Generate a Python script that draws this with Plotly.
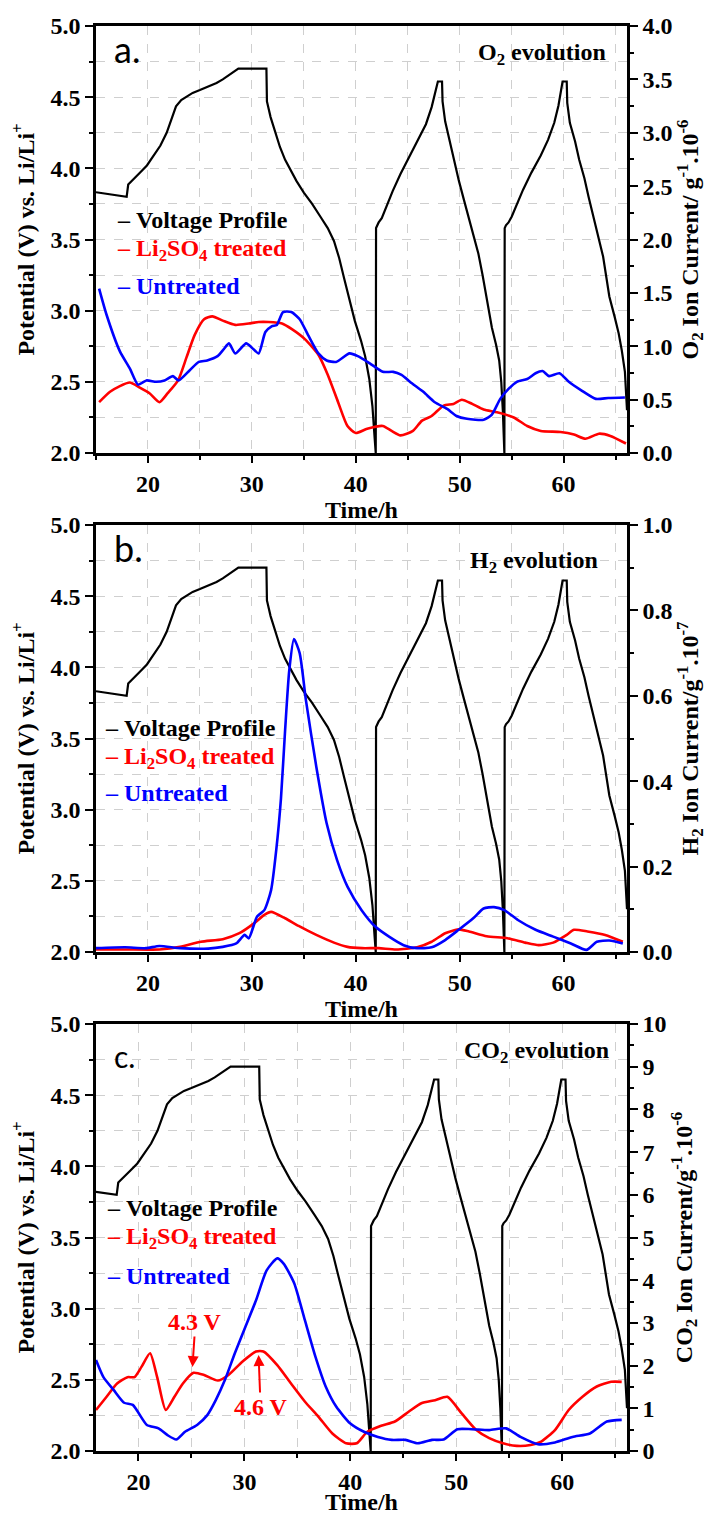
import plotly.graph_objects as go

# ---------------- data ----------------
# Voltage profile (same cell, shared by the three panels)
volt_t = [15.0, 17.95, 18.1, 18.6, 19.2, 19.9, 20.5, 21.2, 21.8, 22.3, 22.7, 23.2, 23.7, 24.3, 25.0,
          25.8, 26.6, 27.2, 27.8, 28.3, 28.7, 31.4, 31.45, 31.8, 32.2, 32.7, 33.2, 33.7, 34.3,
          35.0, 35.8, 36.6, 37.3, 37.9, 38.4, 38.9, 39.4, 39.9, 40.5, 40.9, 41.3, 41.6, 41.8,
          41.92, 41.95, 42.2, 42.5, 43.0, 43.55, 44.3, 45.15, 46.0, 46.75, 47.3, 47.9, 48.3,
          48.35, 48.6, 48.97, 49.4, 49.93, 50.4, 50.9, 51.3, 51.8, 52.2, 52.5, 53.1, 53.5, 53.8,
          54.0, 54.15, 54.3, 54.33, 54.45, 54.7, 55.0, 55.5, 56.1, 56.9, 57.8, 58.5, 59.1, 59.5,
          59.9, 60.3, 60.35, 60.6, 61.1, 61.5, 62.0, 62.4, 62.8, 63.3, 63.8, 64.1, 64.4, 64.9,
          65.3, 65.6, 65.9, 66.1]
volt_v = [3.832, 3.80, 3.886, 3.92, 3.967, 4.02, 4.084, 4.16, 4.25, 4.35, 4.435, 4.48, 4.505, 4.53,
          4.55, 4.575, 4.60, 4.625, 4.655, 4.685, 4.70, 4.70, 4.47, 4.36, 4.26, 4.15, 4.06, 3.99,
          3.91, 3.83, 3.75, 3.66, 3.58, 3.49, 3.37, 3.22, 3.07, 2.93, 2.79, 2.68, 2.52, 2.33,
          2.12, 2.0, 3.58, 3.62, 3.65, 3.74, 3.84, 3.96, 4.08, 4.20, 4.31, 4.43, 4.61, 4.61,
          4.47, 4.33, 4.21, 4.07, 3.91, 3.78, 3.65, 3.54, 3.40, 3.25, 3.12, 2.88, 2.76, 2.65,
          2.50, 2.30, 2.0, 3.58, 3.60, 3.62, 3.66, 3.75, 3.85, 3.97, 4.09, 4.20, 4.32, 4.44,
          4.61, 4.61, 4.46, 4.32, 4.19, 4.06, 3.93, 3.80, 3.68, 3.54, 3.38, 3.24, 3.10, 2.96,
          2.84, 2.72, 2.57, 2.30]

# (a) O2 ion current, 1e-6
o2_treated_t = [15.3, 16.35, 17.3, 18.25, 19.2, 20.15, 21.1, 21.9, 22.9, 23.7, 24.5, 25.4, 26.2, 27.2,
                28.4, 29.7, 30.65, 31.6, 32.9, 33.85, 35.1, 36.4, 37.3, 38.3, 39.2, 40.0, 41.1, 42.6,
                43.45, 44.3, 45.5, 46.35, 47.3, 48.45, 49.4, 50.2, 51.2, 52.3, 53.6, 55.2, 56.5,
                57.8, 59.7, 61.0, 62.1, 63.4, 64.5, 66.0]
o2_treated = [0.476, 0.573, 0.627, 0.66, 0.613, 0.56, 0.476, 0.56, 0.68, 0.893, 1.107, 1.253, 1.28,
              1.24, 1.2, 1.213, 1.227, 1.227, 1.213, 1.16, 1.067, 0.92, 0.733, 0.476, 0.253, 0.187,
              0.227, 0.253, 0.207, 0.165, 0.207, 0.301, 0.347, 0.444, 0.46, 0.499, 0.46, 0.407,
              0.381, 0.333, 0.253, 0.207, 0.197, 0.173, 0.133, 0.181, 0.16, 0.089]
o2_untreated_t = [15.3, 16.0, 17.3, 18.25, 19.05, 19.85, 20.8, 21.6, 22.4, 22.95, 24.0, 24.9, 25.7,
                  26.7, 27.3, 27.8, 28.4, 29.45, 30.0, 30.65, 31.3, 31.9, 32.4, 33.0, 33.8, 34.6,
                  35.4, 36.4, 37.2, 38.1, 39.4, 40.2, 41.35, 42.6, 43.6, 44.4, 45.4, 46.5, 47.6,
                  48.8, 49.7, 50.7, 52.3, 53.1, 53.9, 54.7, 55.5, 56.5, 57.3, 57.97, 58.6, 59.6,
                  60.5, 61.7, 63.1, 64.3, 65.9]
o2_untreated = [1.54, 1.30, 0.952, 0.793, 0.64, 0.68, 0.667, 0.68, 0.72, 0.68, 0.773, 0.853, 0.867,
                0.907, 0.973, 1.027, 0.933, 1.027, 0.987, 0.933, 1.133, 1.187, 1.2, 1.32, 1.32,
                1.253, 1.107, 0.933, 0.867, 0.853, 0.933, 0.907, 0.84, 0.76, 0.76, 0.731, 0.653,
                0.573, 0.476, 0.413, 0.347, 0.32, 0.311, 0.36, 0.507, 0.6, 0.667, 0.693, 0.747,
                0.768, 0.72, 0.747, 0.667, 0.587, 0.507, 0.515, 0.52]

# (b) H2 ion current, 1e-7
h2_treated_t = [15.0, 17.8, 21.1, 23.1, 25.1, 27.2, 28.8, 30.2, 31.2, 31.85, 33.2, 34.5, 36.2, 37.9,
                39.2, 40.6, 42.2, 43.9, 45.9, 47.3, 48.6, 49.9, 50.9, 52.6, 54.6, 56.3, 57.6, 59.0,
                60.3, 61.0, 62.3, 64.0, 65.7]
h2_treated = [0.006, 0.006, 0.006, 0.012, 0.024, 0.03, 0.044, 0.067, 0.087, 0.094, 0.079, 0.061,
              0.040, 0.022, 0.012, 0.009, 0.009, 0.006, 0.011, 0.024, 0.044, 0.053, 0.048, 0.037,
              0.032, 0.022, 0.016, 0.022, 0.04, 0.052, 0.048, 0.040, 0.024]
h2_untreated_t = [15.0, 17.8, 19.8, 21.1, 23.1, 25.8, 27.2, 28.5, 29.3, 29.7, 30.5, 31.2, 31.85,
                  32.35, 32.8, 33.2, 33.6, 34.05, 34.6, 35.2, 36.2, 37.2, 38.2, 39.2, 40.56, 41.9,
                  43.2, 44.6, 45.9, 47.3, 48.6, 49.9, 51.3, 52.3, 53.3, 54.3, 55.6, 57.3, 59.0,
                  60.7, 62.2, 63.2, 64.4, 65.7]
h2_untreated = [0.009, 0.011, 0.009, 0.014, 0.009, 0.008, 0.012, 0.02, 0.04, 0.032, 0.083, 0.098,
                0.145, 0.24, 0.36, 0.52, 0.66, 0.733, 0.70, 0.59, 0.434, 0.301, 0.215, 0.153,
                0.098, 0.059, 0.036, 0.016, 0.009, 0.011, 0.028, 0.052, 0.079, 0.102, 0.105,
                0.098, 0.075, 0.052, 0.036, 0.02, 0.005, 0.024, 0.027, 0.02]

# (c) CO2 ion current, 1e-6
co2_treated_t = [16.0, 17.0, 17.99, 18.97, 19.63, 20.29, 21.1, 21.77, 22.58, 23.4, 24.2, 25.2, 26.2,
                 27.5, 28.5, 29.8, 31.1, 31.8, 33.1, 34.4, 35.7, 37.0, 38.3, 39.6, 40.6, 41.6,
                 42.9, 44.2, 45.5, 46.7, 48.0, 49.15, 50.5, 51.8, 53.1, 54.4, 55.7, 57.0, 58.0,
                 59.3, 60.6, 61.9, 63.25, 64.6, 65.6]
co2_treated = [0.96, 1.27, 1.58, 1.73, 1.73, 1.97, 2.29, 1.73, 0.96, 1.27, 1.58, 1.83, 1.78, 1.65,
               1.78, 2.09, 2.33, 2.33, 2.01, 1.58, 1.16, 0.80, 0.41, 0.18, 0.18, 0.45, 0.59, 0.69,
               0.92, 1.12, 1.19, 1.27, 0.88, 0.51, 0.30, 0.18, 0.12, 0.14, 0.22, 0.49, 0.96,
               1.27, 1.51, 1.62, 1.62]
co2_untreated_t = [16.0, 16.7, 17.66, 18.65, 19.47, 20.8, 21.9, 22.75, 23.57, 24.4, 25.54, 26.5,
                   27.3, 28.16, 29.1, 30.1, 31.1, 32.1, 33.1, 33.7, 34.7, 35.7, 36.7, 37.67, 38.66,
                   39.97, 41.28, 42.6, 43.9, 45.2, 46.37, 47.7, 48.8, 50.1, 51.45, 53.1, 54.7,
                   56.05, 57.7, 59.3, 60.96, 62.6, 64.2, 65.6]
co2_untreated = [2.13, 1.73, 1.43, 1.13, 1.08, 0.61, 0.53, 0.37, 0.27, 0.45, 0.61, 0.84, 1.19, 1.66,
                 2.29, 2.91, 3.53, 4.23, 4.51, 4.39, 3.93, 3.07, 2.21, 1.51, 1.04, 0.65, 0.45, 0.33,
                 0.26, 0.26, 0.18, 0.26, 0.27, 0.51, 0.51, 0.49, 0.53, 0.33, 0.16, 0.20, 0.33,
                 0.41, 0.69, 0.73]

legend_labels = ["Voltage Profile", "Li<sub>2</sub>SO<sub>4</sub> treated", "Untreated"]
panel_letters = ["a.", "b.", "c."]
gas_labels = ["O<sub>2</sub> evolution", "H<sub>2</sub> evolution", "CO<sub>2</sub> evolution"]
right_titles = ["O<sub>2</sub> Ion Current/ g<sup>-1</sup>.10<sup>-6</sup>",
                "H<sub>2</sub> Ion Current/g<sup>-1</sup>.10<sup>-7</sup>",
                "CO<sub>2</sub> Ion Current/g<sup>-1</sup>.10<sup>-6</sup>"]
left_title = "Potential (V) vs. Li/Li<sup>+</sup>"
x_title = "Time/h"
annot_labels = ["4.3 V", "4.6 V"]
annot_t = [25.1, 31.34]
annot_v = [2.59, 2.674]

# ---------------- styling ----------------
W, H = 718, 1515
SERIF = "Liberation Serif"
FS = 24
BLACK, RED, BLUE = "#000000", "#ff0000", "#0000ff"
GRID = "#cfcfcf"

x_l, x_r = 96, 627
panels_px = [(26, 453), (525, 952), (1024, 1451)]
x_ranges = [[15.0, 66.1], [15.0, 66.1], [16.0, 66.1]]
right_ranges = [[0, 4.0], [0, 1.0], [0, 10]]
right_dtick = [0.5, 0.2, 1]
right_minor = [0.25, 0.1, 0.5]
right_fmt = [".1f", ".1f", "d"]
x_title_standoff = [3, 3, 0]

fig = go.Figure()

series = [
    (o2_treated_t, o2_treated, o2_untreated_t, o2_untreated),
    (h2_treated_t, h2_treated, h2_untreated_t, h2_untreated),
    (co2_treated_t, co2_treated, co2_untreated_t, co2_untreated),
]

font_b = dict(family=SERIF, size=FS, color="black", weight="bold")

for i in range(3):
    xa = "x" if i == 0 else f"x{i+1}"
    yl = f"y{2*i+1}" if i > 0 else "y"
    yr = f"y{2*i+2}"
    tr_t, tr_v, un_t, un_v = series[i]
    fig.add_trace(go.Scatter(x=volt_t, y=volt_v, mode="lines", xaxis=xa, yaxis=yl,
                             line=dict(color=BLACK, width=2.2), showlegend=False))
    fig.add_trace(go.Scatter(x=tr_t, y=tr_v, mode="lines", xaxis=xa, yaxis=yr,
                             line=dict(color=RED, width=2.6, shape="spline", smoothing=0.6),
                             showlegend=False))
    fig.add_trace(go.Scatter(x=un_t, y=un_v, mode="lines", xaxis=xa, yaxis=yr,
                             line=dict(color=BLUE, width=2.6, shape="spline", smoothing=0.6),
                             showlegend=False))

    top, bot = panels_px[i]
    ydom = [1 - bot / H, 1 - top / H]
    xdom = [x_l / W, x_r / W]
    xkey = "xaxis" if i == 0 else f"xaxis{i+1}"
    ylkey = "yaxis" if i == 0 else f"yaxis{2*i+1}"
    yrkey = f"yaxis{2*i+2}"

    fig.update_layout(**{
        xkey: dict(domain=xdom, anchor=yl, range=x_ranges[i], dtick=10, tick0=0,
                   automargin=False,
                   showline=True, linewidth=2.5, linecolor="black", mirror=True,
                   ticks="outside", ticklen=7, tickwidth=2, tickcolor="black",
                   showgrid=True, gridcolor=GRID, griddash="dash", gridwidth=1,
                   zeroline=False, tickfont=font_b,
                   minor=dict(dtick=5, tick0=0, ticks="outside", ticklen=4, tickwidth=2,
                              tickcolor="black", showgrid=True, gridcolor=GRID,
                              griddash="dash", gridwidth=1),
                   title=dict(text=x_title, font=font_b, standoff=x_title_standoff[i])),
        ylkey: dict(domain=ydom, anchor=xa, range=[2.0, 5.0], dtick=0.5, tick0=0,
                    automargin=False,
                    tickformat=".1f", showline=True, linewidth=2.5, linecolor="black",
                    ticks="outside", ticklen=8, tickwidth=2, tickcolor="black",
                    showgrid=True, gridcolor=GRID, griddash="dash", gridwidth=1,
                    zeroline=False, tickfont=font_b,
                    minor=dict(dtick=0.25, tick0=0, ticks="outside", ticklen=4, tickwidth=2,
                               tickcolor="black", showgrid=True, gridcolor=GRID,
                               griddash="dash", gridwidth=1),
                    title=dict(text=left_title, font=font_b, standoff=10)),
        yrkey: dict(overlaying=yl, side="right", anchor=xa, range=right_ranges[i],
                    automargin=False,
                    dtick=right_dtick[i], tick0=0, tickformat=right_fmt[i],
                    showline=True, linewidth=2.5, linecolor="black",
                    ticks="outside", ticklen=8, tickwidth=2, tickcolor="black",
                    showgrid=False, zeroline=False, tickfont=font_b,
                    minor=dict(dtick=right_minor[i], tick0=0, ticks="outside", ticklen=4,
                               tickwidth=2, tickcolor="black", showgrid=False),
                    title=dict(text=right_titles[i], font=font_b, standoff=10)),
    })

# ---------------- annotations ----------------
annots = []
letter_pos = [(0.03, 0.945, 36), (0.03, 0.945, 36), (0.03, 0.925, 30)]
gas_pos = [(0.964, 0.934), (0.949, 0.913), (0.970, 0.934)]
legend_x = [0.036, 0.013, 0.017]
legend_y = [[0.5457, 0.4754, 0.3911], [0.5246, 0.4543, 0.3724], [0.5691, 0.4988, 0.4098]]
leg_colors = [BLACK, RED, BLUE]
for i in range(3):
    xa = "x" if i == 0 else f"x{i+1}"
    yl = "y" if i == 0 else f"y{2*i+1}"
    lx, ly, lfs = letter_pos[i]
    annots.append(dict(xref=f"{xa} domain", yref=f"{yl} domain", x=lx, y=ly,
                       xanchor="left", yanchor="middle", showarrow=False,
                       text=panel_letters[i],
                       font=dict(family="Lato", size=lfs, color="black")))
    gx, gy = gas_pos[i]
    annots.append(dict(xref=f"{xa} domain", yref=f"{yl} domain", x=gx, y=gy,
                       xanchor="right", yanchor="middle", showarrow=False,
                       text=gas_labels[i], font=dict(family=SERIF, size=FS, color="black",
                                                     weight="bold")))
    for k in range(3):
        annots.append(dict(xref=f"{xa} domain", yref=f"{yl} domain", x=legend_x[i],
                           y=legend_y[i][k], xanchor="left", yanchor="middle",
                           showarrow=False, text="\u2013\u00a0" + legend_labels[k],
                           font=dict(family=SERIF, size=FS, color=leg_colors[k],
                                     weight="bold")))

arrow_off = [(3, -45), (2, 52)]
for k in range(2):
    annots.append(dict(xref="x3", yref="y5", x=annot_t[k], y=annot_v[k],
                       ax=arrow_off[k][0], ay=arrow_off[k][1], showarrow=True,
                       arrowhead=2, arrowsize=1.1, arrowwidth=2, arrowcolor=RED,
                       text=annot_labels[k],
                       font=dict(family=SERIF, size=FS, color=RED, weight="bold")))

fig.update_layout(width=W, height=H, margin=dict(l=0, r=0, t=0, b=0),
                  paper_bgcolor="white", plot_bgcolor="white", annotations=annots,
                  showlegend=False)

# remove the browser's default 8px body margin so the figure sits at the page origin
fig.write_html("out.html", config={"displayModeBar": False},
               post_script="document.body.style.margin='0';document.body.style.overflow='hidden';")
